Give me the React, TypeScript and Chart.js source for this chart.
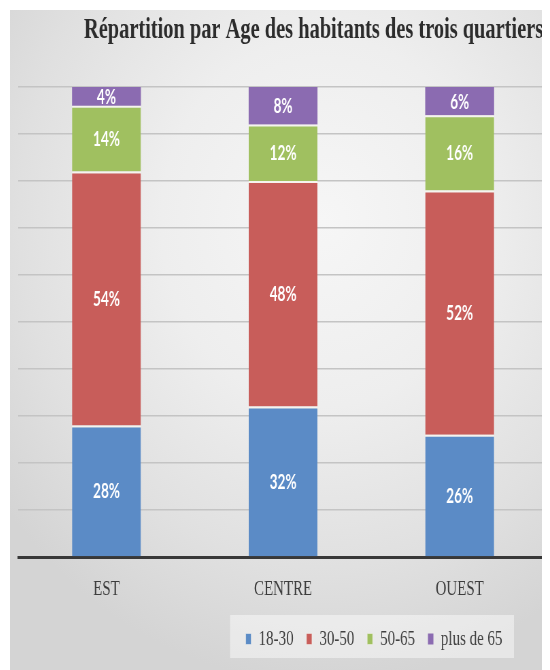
import React, { useEffect, useRef } from 'react';
import { Chart, registerables } from 'chart.js';

Chart.register(...registerables);

// ---- data ----
const titleText = 'Répartition par Age des habitants des trois quartiers';
const categories = ['EST', 'CENTRE', 'OUEST'];
const seriesNames = ['18-30', '30-50', '50-65', 'plus de 65'];
const age18to30 = [28, 32, 26];
const age30to50 = [54, 48, 52];
const age50to65 = [14, 12, 16];
const age65plus = [4, 8, 6];
const yMin = 0;
const yMax = 100;
const yStep = 10;

// ---- styling ----
const seriesColors = ['#5b8bc6', '#c85d5a', '#a0c060', '#8b6bb1'];
const CSS_W = 540;
const CSS_H = 660;
const INTERNAL_W = 794; // rendered wider then squeezed horizontally like the reference
const LEGEND_SHIFT = 48;
const TITLE_SHIFT = 7;

const segmentLabels = {
  id: 'segmentLabels',
  afterDatasetsDraw(chart: any) {
    const ctx = chart.ctx;
    ctx.save();
    ctx.font = 'bold 20px Lato';
    ctx.fillStyle = '#ffffff';
    ctx.textAlign = 'center';
    ctx.textBaseline = 'middle';
    chart.data.datasets.forEach((ds: any, di: number) => {
      const meta = chart.getDatasetMeta(di);
      meta.data.forEach((el: any, i: number) => {
        const p = el.getProps(['x', 'y', 'base'], true);
        ctx.fillText(ds.data[i] + '%', p.x, (p.y + p.base) / 2 + 1);
      });
    });
    ctx.restore();
  },
};

const boxPlacement = {
  id: 'boxPlacement',
  afterLayout(chart: any) {
    const lg = chart.legend;
    if (lg) {
      lg.left -= LEGEND_SHIFT;
      lg.right -= LEGEND_SHIFT;
    }
    const tb = chart.titleBlock;
    if (tb) {
      tb.left -= TITLE_SHIFT;
      tb.right -= TITLE_SHIFT;
    }
  },
  beforeDraw(chart: any) {
    const lg = chart.legend;
    if (!lg || !lg.lineWidths) return;
    const pad = lg.options.labels.padding;
    const itemH = lg.options.labels.font.size;
    const rowStart = lg.right - lg.lineWidths[0];
    const rowEnd = lg.right - pad;
    const cy = lg.top + pad + itemH / 2;
    const ctx = chart.ctx;
    ctx.save();
    ctx.fillStyle = 'rgba(255,255,255,0.45)';
    ctx.fillRect(rowStart - 23, cy - 24, rowEnd - rowStart + 40, 43);
    ctx.restore();
  },
};

export default function App() {
  const ref = useRef<HTMLCanvasElement | null>(null);

  useEffect(() => {
    if (!ref.current) return;
    const series = [age18to30, age30to50, age50to65, age65plus];
    const chart = new Chart(ref.current, {
      type: 'bar',
      data: {
        labels: categories,
        datasets: series.map((vals, i) => ({
          label: seriesNames[i],
          data: vals,
          backgroundColor: seriesColors[i],
          borderColor: '#f6f4ee',
          borderWidth: i < series.length - 1 ? { top: 2, right: 0, bottom: 0, left: 0 } : 0,
          borderSkipped: false,
          barPercentage: 0.39,
          categoryPercentage: 1,
        })),
      },
      options: {
        responsive: false,
        animation: false,
        events: [],
        devicePixelRatio: 1,
        layout: { padding: { left: 12, right: 3, top: 0, bottom: 10 } },
        plugins: {
          title: {
            display: true,
            text: titleText,
            align: 'end',
            color: '#2c2c2c',
            font: { family: 'Liberation Serif', size: 30, weight: 'bold', lineHeight: 1.2 },
            padding: { top: 2, bottom: 39 },
          },
          legend: {
            display: true,
            position: 'bottom',
            align: 'end',
            labels: {
              boxWidth: 8,
              boxHeight: 11,
              padding: 19,
              color: '#404040',
              font: { family: 'Liberation Serif', size: 22 },
            },
          },
          tooltip: { enabled: false },
        },
        scales: {
          x: {
            stacked: true,
            grid: { display: false, drawTicks: false, tickLength: 0 },
            border: { display: true, color: '#383838', width: 3 },
            ticks: {
              color: '#3c3c3c',
              padding: 19,
              font: { family: 'Liberation Serif', size: 22 },
            },
            afterFit: (s: any) => {
              s.height = 52;
            },
          },
          y: {
            stacked: true,
            min: yMin,
            max: yMax,
            ticks: { display: false, stepSize: yStep },
            border: { display: false },
            grid: { color: '#c4c4c4', lineWidth: 1.5, drawTicks: false, tickLength: 0 },
          },
        },
      },
      plugins: [segmentLabels, boxPlacement],
    });
    return () => chart.destroy();
  }, []);

  return (
    <div
      style={{
        margin: '2px 0 0 2px',
        width: CSS_W,
        height: CSS_H,
        background:
          'radial-gradient(ellipse 75% 70% at 58% 32%, #f6f6f6 0%, #eeeeee 40%, #e0e0e0 75%, #d4d4d4 100%)',
      }}
    >
      <canvas
        ref={ref}
        width={INTERNAL_W}
        height={CSS_H}
        style={{ width: CSS_W + 'px', height: CSS_H + 'px', display: 'block' }}
      />
    </div>
  );
}
